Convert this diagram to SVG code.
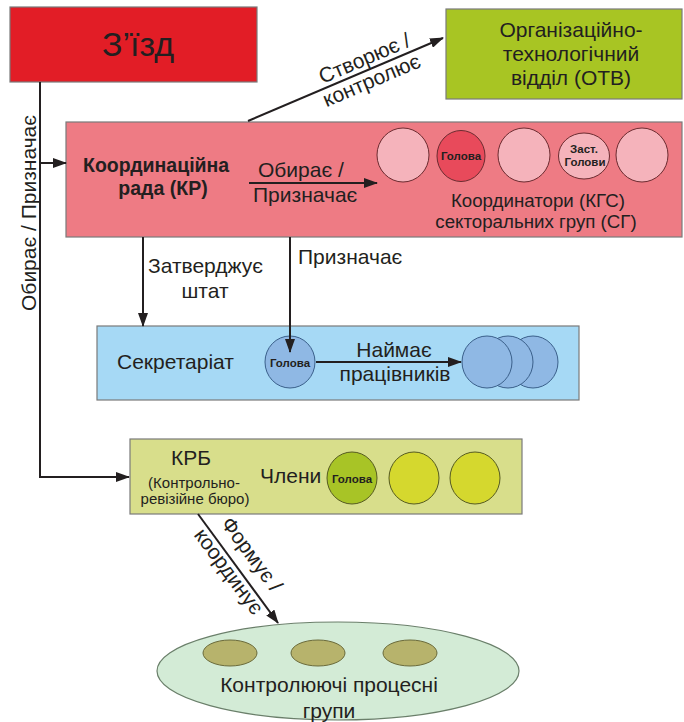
<svg xmlns="http://www.w3.org/2000/svg" width="684" height="722" viewBox="0 0 684 722">
<defs>
<style>
text{font-family:"Liberation Sans",Arial,sans-serif;fill:#231f20}
.lbl{font-size:21px}
.b{font-weight:bold}
.sm{font-size:11.5px;font-weight:bold;text-anchor:middle}
.c{text-anchor:middle}
.box{stroke:#7a7a7a;stroke-width:1.2}
.conn{stroke:#231f20;stroke-width:2;fill:none}
.kc{fill:#f5b3bb;stroke:#6b2b30;stroke-width:1}
.bc{fill:#8fb8e4;stroke:#3a5f8a;stroke-width:1}
.yc{fill:#d5d82e;stroke:#555a20;stroke-width:1}
.oc{fill:#b7b36c;stroke:#6a6a3a;stroke-width:1}
</style>
<marker id="ah" markerUnits="userSpaceOnUse" markerWidth="14" markerHeight="10" viewBox="0 0 14 10" refX="13" refY="5" orient="auto">
<path d="M0,0 L14,5 L0,10 z" fill="#231f20"/>
</marker>
</defs>
<rect width="684" height="722" fill="#ffffff"/>

<g id="zizd">
<rect class="box" x="10" y="7" width="247" height="75" fill="#e21d26"/>
<text x="138" y="56" class="c" font-size="34">З’їзд</text>
</g>

<g id="otv">
<rect class="box" x="446" y="9" width="236" height="90" fill="#a8c523"/>
<text class="c" font-size="21" x="571" y="37">Організаційно-</text>
<text class="c" font-size="21" x="571" y="61">технологічний</text>
<text class="c" font-size="21" x="571" y="85">відділ (ОТВ)</text>
</g>

<g id="kr">
<rect class="box" x="66" y="122" width="616" height="115" fill="#ee7b84"/>
<text class="b" font-size="19.5" x="83" y="172">Координаційна</text>
<text class="b c" font-size="19.5" x="163" y="195">рада (КР)</text>
<ellipse class="kc" cx="403" cy="155" rx="26" ry="27"/>
<ellipse class="kc" cx="461" cy="156" rx="24" ry="25.5" style="fill:#e84a5b"/>
<ellipse class="kc" cx="524" cy="155" rx="26" ry="27"/>
<ellipse class="kc" cx="584" cy="156" rx="25.5" ry="23"/>
<ellipse class="kc" cx="642" cy="155" rx="26" ry="27"/>
<text class="sm" x="461" y="160">Голова</text>
<text class="sm" x="584" y="153">Заст.</text>
<text class="sm" x="585" y="166">Голови</text>
<text class="c" font-size="18.7" x="538" y="207">Координатори (КГС)</text>
<text class="c" font-size="18.7" x="536" y="228">секторальних груп (СГ)</text>
</g>

<g id="secretariat">
<rect class="box" x="97" y="326" width="482" height="74" fill="#a6d9f5"/>
<text class="lbl" x="117" y="369">Секретаріат</text>
<ellipse class="bc" cx="290" cy="362" rx="25" ry="26"/>
<text class="sm" x="290" y="367">Голова</text>
<ellipse class="bc" cx="533" cy="362" rx="25" ry="26"/>
<ellipse class="bc" cx="508" cy="362" rx="25" ry="26"/>
<ellipse class="bc" cx="487" cy="362" rx="25" ry="26"/>
</g>

<g id="krb">
<rect class="box" x="130" y="439" width="392" height="75" fill="#d8de8b"/>
<text class="lbl c" x="191" y="465">КРБ</text>
<text class="c" font-size="15" x="194" y="488">(Контрольно-</text>
<text class="c" font-size="15" x="195" y="504">ревізійне бюро)</text>
<text class="lbl" x="260" y="483">Члени</text>
<ellipse class="yc" cx="352" cy="478" rx="25" ry="26" style="fill:#a8c426"/>
<text class="sm" x="352" y="483">Голова</text>
<ellipse class="yc" cx="414" cy="478" rx="25" ry="26"/>
<ellipse class="yc" cx="475" cy="478" rx="25" ry="26"/>
</g>

<g id="process-groups">
<ellipse cx="338" cy="671" rx="181" ry="49" fill="#d3ebd6" stroke="#6a7f6a" stroke-width="1.2"/>
<ellipse class="oc" cx="230" cy="653" rx="27" ry="13"/>
<ellipse class="oc" cx="318" cy="653" rx="27" ry="13"/>
<ellipse class="oc" cx="410" cy="653" rx="27" ry="13"/>
<text class="lbl c" x="329" y="692">Контролюючі процесні</text>
<text class="lbl c" x="329" y="718">групи</text>
</g>

<g id="connectors">
<polyline class="conn" points="40,82 40,477 129,477" marker-end="url(#ah)"/>
<line class="conn" x1="40" y1="163" x2="66" y2="163" marker-end="url(#ah)"/>
<g transform="translate(36,213) rotate(-90)"><text class="lbl c" x="0" y="0">Обирає / Призначає</text></g>

<line class="conn" x1="248" y1="121" x2="443" y2="38" marker-end="url(#ah)"/>
<g transform="translate(369,69) rotate(-23.06)">
<text class="lbl c" x="0" y="-4.5">Створює /</text>
<text class="lbl c" x="-2" y="18.5">контролює</text>
</g>

<line class="conn" x1="249" y1="183" x2="377" y2="183" marker-end="url(#ah)"/>
<text class="lbl" x="258" y="177">Обирає /</text>
<text class="lbl" x="253" y="202">Призначає</text>

<line class="conn" x1="143" y1="237" x2="143" y2="326" marker-end="url(#ah)"/>
<text class="lbl" x="148" y="273">Затверджує</text>
<text class="lbl c" x="205" y="298">штат</text>

<line class="conn" x1="290" y1="237" x2="290" y2="352" marker-end="url(#ah)"/>
<text class="lbl" x="298" y="264">Призначає</text>

<line class="conn" x1="316" y1="362" x2="461" y2="362" marker-end="url(#ah)"/>
<text class="lbl c" x="394" y="357">Наймає</text>
<text class="lbl c" x="395" y="381">працівників</text>

<line class="conn" x1="198" y1="514" x2="278" y2="623" marker-end="url(#ah)"/>
<g transform="translate(236,566) rotate(53.5)">
<text class="lbl c" x="0" y="-12.5">Формує /</text>
<text class="lbl c" x="0" y="16">координує</text>
</g>
</g>
</svg>
